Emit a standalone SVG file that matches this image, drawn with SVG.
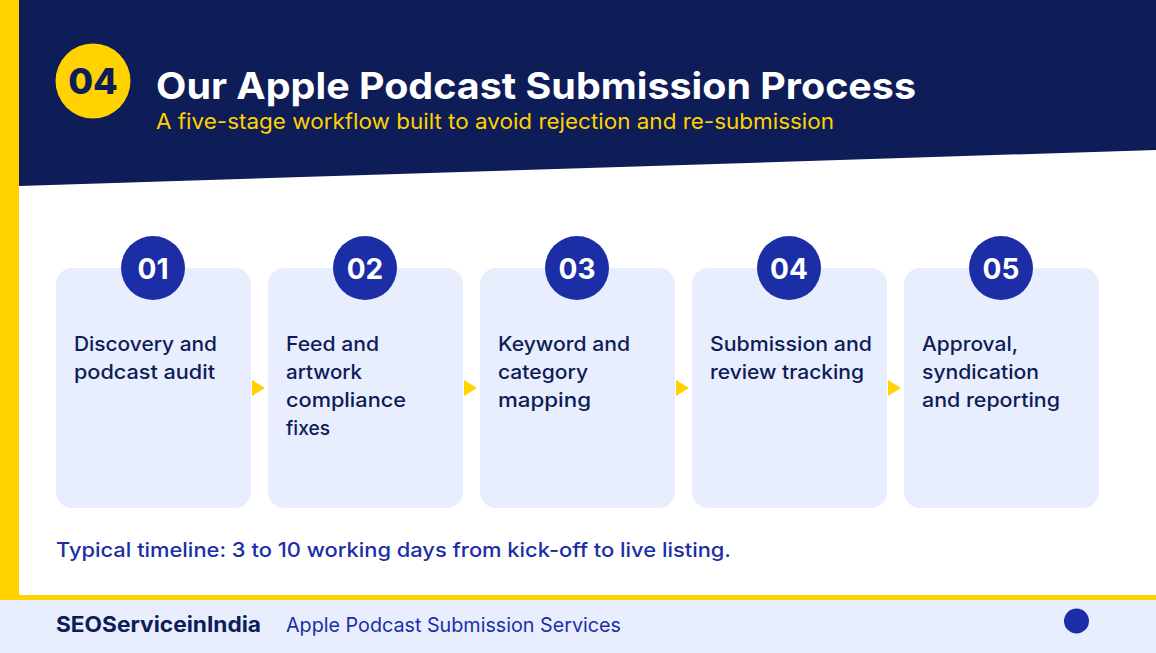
<svg xmlns="http://www.w3.org/2000/svg" width="1156" height="653" viewBox="0 0 1156 653">
<defs>
<style>
.t{font-family:Inter,"Open Sans","Liberation Sans",sans-serif}
.card{fill:#e8eefd}
.num{fill:#1c2ea6}
.numt{fill:#ffffff;font-size:28px;font-weight:700;text-anchor:middle}
.ct{fill:#0e1c57;font-size:20px;font-weight:500}
.arr{fill:#ffd200}
</style>
</defs>
<rect x="0" y="0" width="1156" height="653" fill="#ffffff"/>
<polygon points="19,0 1156,0 1156,150 19,186" fill="#0e1c57"/>
<rect x="0" y="0" width="19" height="598" fill="#ffd200"/>
<rect x="0" y="600" width="1156" height="53" fill="#e8eefd"/>
<rect x="0" y="595" width="1156" height="5" fill="#ffd200"/>
<g id="header">
<circle cx="93" cy="81" r="37.5" fill="#ffd200"/>
<text class="t" x="93" y="94" font-size="36" font-weight="800" fill="#0e1c57" text-anchor="middle">04</text>
<text class="t" x="156" y="99" font-size="37" font-weight="700" fill="#ffffff" textLength="760" lengthAdjust="spacingAndGlyphs">Our Apple Podcast Submission Process</text>
<text class="t" x="156" y="129" font-size="21" fill="#ffd200" textLength="678" lengthAdjust="spacingAndGlyphs">A five-stage workflow built to avoid rejection and re-submission</text>
</g>
<g id="connectors">
<polygon class="arr" points="252,380 265,388 252,396"/>
<polygon class="arr" points="464,380 477,388 464,396"/>
<polygon class="arr" points="676,380 689,388 676,396"/>
<polygon class="arr" points="888,380 901,388 888,396"/>
</g>
<g id="step1">
<rect class="card" x="56" y="268" width="195" height="240" rx="16"/>
<circle class="num" cx="153" cy="268" r="32"/>
<text class="t numt" x="153" y="279">01</text>
<text class="t ct" x="74" y="351" textLength="143" lengthAdjust="spacingAndGlyphs">Discovery and</text>
<text class="t ct" x="74" y="379" textLength="141" lengthAdjust="spacingAndGlyphs">podcast audit</text>
</g>
<g id="step2">
<rect class="card" x="268" y="268" width="195" height="240" rx="16"/>
<circle class="num" cx="365" cy="268" r="32"/>
<text class="t numt" x="365" y="279">02</text>
<text class="t ct" x="286" y="351" textLength="93" lengthAdjust="spacingAndGlyphs">Feed and</text>
<text class="t ct" x="286" y="379" textLength="76" lengthAdjust="spacingAndGlyphs">artwork</text>
<text class="t ct" x="286" y="407" textLength="120" lengthAdjust="spacingAndGlyphs">compliance</text>
<text class="t ct" x="286" y="435" textLength="44" lengthAdjust="spacingAndGlyphs">fixes</text>
</g>
<g id="step3">
<rect class="card" x="480" y="268" width="195" height="240" rx="16"/>
<circle class="num" cx="577" cy="268" r="32"/>
<text class="t numt" x="577" y="279">03</text>
<text class="t ct" x="498" y="351" textLength="132" lengthAdjust="spacingAndGlyphs">Keyword and</text>
<text class="t ct" x="498" y="379" textLength="90" lengthAdjust="spacingAndGlyphs">category</text>
<text class="t ct" x="498" y="407" textLength="93" lengthAdjust="spacingAndGlyphs">mapping</text>
</g>
<g id="step4">
<rect class="card" x="692" y="268" width="195" height="240" rx="16"/>
<circle class="num" cx="789" cy="268" r="32"/>
<text class="t numt" x="789" y="279">04</text>
<text class="t ct" x="710" y="351" textLength="162" lengthAdjust="spacingAndGlyphs">Submission and</text>
<text class="t ct" x="710" y="379" textLength="154" lengthAdjust="spacingAndGlyphs">review tracking</text>
</g>
<g id="step5">
<rect class="card" x="904" y="268" width="195" height="240" rx="16"/>
<circle class="num" cx="1001" cy="268" r="32"/>
<text class="t numt" x="1001" y="279">05</text>
<text class="t ct" x="922" y="351" textLength="96" lengthAdjust="spacingAndGlyphs">Approval,</text>
<text class="t ct" x="922" y="379" textLength="117" lengthAdjust="spacingAndGlyphs">syndication</text>
<text class="t ct" x="922" y="407" textLength="138" lengthAdjust="spacingAndGlyphs">and reporting</text>
</g>
<g id="footer">
<text class="t" x="56" y="557" font-size="20" font-weight="500" fill="#1c2ea6" textLength="675" lengthAdjust="spacingAndGlyphs">Typical timeline: 3 to 10 working days from kick-off to live listing.</text>
<text class="t" x="56" y="632" font-size="21" font-weight="700" fill="#0e1c57" textLength="205" lengthAdjust="spacingAndGlyphs">SEOServiceinIndia</text>
<text class="t" x="286" y="632" font-size="20" fill="#1c2ea6" textLength="335" lengthAdjust="spacingAndGlyphs">Apple Podcast Submission Services</text>
<circle cx="1076.5" cy="621" r="12.5" fill="#1c2ea6"/>
</g>
</svg>
